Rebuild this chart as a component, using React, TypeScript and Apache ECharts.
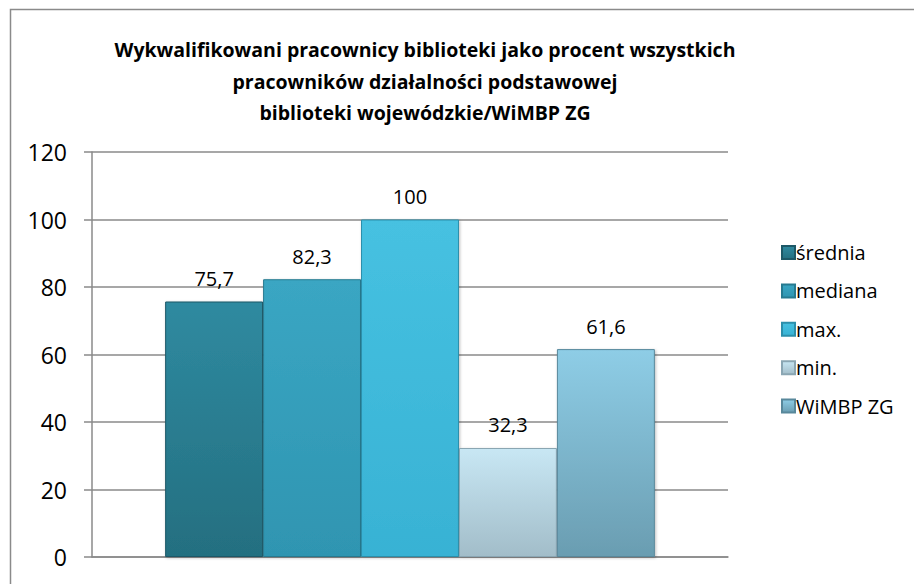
import React, { useEffect, useRef } from "react";
import * as echarts from "echarts";

const titleLines = [
  "Wykwalifikowani pracownicy biblioteki jako procent wszystkich",
  "pracowników działalności podstawowej",
  "biblioteki wojewódzkie/WiMBP ZG",
];
const categories = [""];
const seriesNames = ["średnia", "mediana", "max.", "min.", "WiMBP ZG"];
const seriesValues = [75.7, 82.3, 100, 32.3, 61.6];
const yTicks = { min: 0, max: 120, interval: 20 };

const palette = [
  { top: "#2f8aa0", bottom: "#246f80", border: "#1d5867" },
  { top: "#3aa6c3", bottom: "#2f95b1", border: "#267a90" },
  { top: "#46c1e1", bottom: "#38b2d4", border: "#2b8fab" },
  { top: "#c8e7f4", bottom: "#a2bdc9", border: "#8aa6b3" },
  { top: "#8ecde6", bottom: "#6a9db1", border: "#58889b" },
];

export default function App() {
  const ref = useRef<HTMLDivElement>(null);
  useEffect(() => {
    if (!ref.current) return;
    const chart = echarts.init(ref.current, null, { renderer: "svg" });
    const font = "'Open Sans', 'Noto Sans', sans-serif";
    chart.setOption({
      animation: false,
      backgroundColor: "#ffffff",
      textStyle: { fontFamily: font },
      title: {
        text: titleLines.join("\n"),
        left: 420,
        textAlign: "center",
        top: 29,
        textStyle: {
          fontFamily: font,
          fontWeight: "bold",
          fontSize: 19.5,
          lineHeight: 31.5,
          color: "#000",
        },
      },
      graphic: [
        {
          type: "rect",
          shape: { x: 10.5, y: 9.5, width: 1000, height: 1000 },
          style: { fill: "none", stroke: "#8a8a8a", lineWidth: 1.5 },
          silent: true,
        },
      ],
      legend: {
        orient: "vertical",
        left: 776,
        top: 237,
        itemWidth: 13,
        itemHeight: 13,
        itemGap: 17.4,
        icon: "rect",
        textStyle: { fontFamily: font, fontSize: 20, color: "#000", lineHeight: 21, padding: [0, 0, 0, -4] },
        data: seriesNames,
      },
      grid: { left: 92, right: 186, top: 152, bottom: 27, containLabel: false },
      xAxis: {
        type: "category",
        data: categories,
        axisLine: { show: true, lineStyle: { color: "#8a8a8a", width: 1.5 } },
        axisTick: { show: false },
        axisLabel: { show: false },
      },
      yAxis: {
        type: "value",
        min: yTicks.min,
        max: yTicks.max,
        interval: yTicks.interval,
        axisLine: { show: true, lineStyle: { color: "#8a8a8a", width: 1.5 } },
        axisTick: { show: true, length: 8, lineStyle: { color: "#8a8a8a", width: 1.5 } },
        axisLabel: { fontFamily: font, fontSize: 23, color: "#000", margin: 25 },
        splitLine: { show: true, lineStyle: { color: "#8a8a8a", width: 1.5 } },
      },
      series: seriesNames.map((name, i) => ({
        name,
        type: "bar",
        barGap: "0%",
        barCategoryGap: "23%",
        data: [seriesValues[i]],
        itemStyle: {
          color: new echarts.graphic.LinearGradient(0, 0, 0, 1, [
            { offset: 0, color: palette[i].top },
            { offset: 1, color: palette[i].bottom },
          ]),
          borderColor: palette[i].border,
          borderWidth: 1,
          shadowColor: "rgba(0,0,0,0.25)",
          shadowBlur: 3,
          shadowOffsetX: 1,
          shadowOffsetY: 1,
        },
        label: {
          show: true,
          position: "top",
          distance: 13,
          fontFamily: font,
          fontSize: 20,
          color: "#000",
          formatter: (p: any) => String(p.value).replace(".", ","),
        },
      })),
    });
    return () => chart.dispose();
  }, []);
  return (
    <div
      ref={ref}
      style={{ position: "fixed", left: 0, top: 0, width: 914, height: 584 }}
    />
  );
}
